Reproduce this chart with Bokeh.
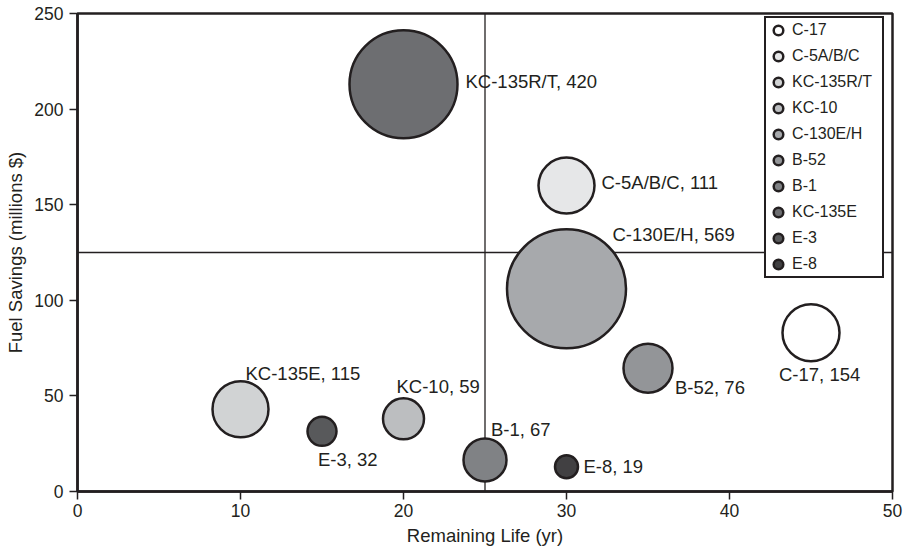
from bokeh.plotting import figure
from bokeh.models import Range1d, FixedTicker, Span, ColumnDataSource, Legend, LegendItem
from bokeh.core.properties import value
from bokeh.embed import file_html
from bokeh.resources import INLINE

# ---- data ----
aircraft = ["KC-135R/T", "C-5A/B/C", "C-130E/H", "KC-135E", "E-3",
            "KC-10", "B-1", "E-8", "B-52", "C-17"]
remaining_life = [20, 30, 30, 10, 15, 20, 25, 30, 35, 45]
fuel_savings = [213, 160, 106, 43, 31.5, 38, 16.5, 13, 64.5, 83]
fleet_size = [420, 111, 569, 115, 32, 59, 67, 19, 76, 154]

legend_order = ["C-17", "C-5A/B/C", "KC-135R/T", "KC-10", "C-130E/H",
                "B-52", "B-1", "KC-135E", "E-3", "E-8"]

x_ticks = [0, 10, 20, 30, 40, 50]
y_ticks = [0, 50, 100, 150, 200, 250]
x_divider = 25
y_divider = 125

# ---- styling ----
INK = "#231f20"
FONT = "Liberation Sans"
bubble_px = [108, 56, 119, 56, 29, 41, 43, 23, 49, 57]
bubble_fill = ["#6d6e71", "#e6e7e8", "#a7a9ac", "#d1d3d4", "#58595b",
               "#bcbec0", "#808285", "#414042", "#939598", "#ffffff"]
legend_fill = ["#ffffff", "#e6e7e8", "#d1d3d4", "#bcbec0", "#a7a9ac",
               "#939598", "#808285", "#6d6e71", "#58595b", "#414042"]
# label offsets in screen px (right, down) from the bubble centre
label_dx = [62, 35, 46, 5, -4, -7, 6, 17, 27, -32]
label_dy = [-3, -3, -54, -36, 28, -32, -30, 0, 19, 42]

labels = [f"{a}, {n}" for a, n in zip(aircraft, fleet_size)]

src = ColumnDataSource(dict(x=remaining_life, y=fuel_savings, size=bubble_px,
                            fill=bubble_fill, label=labels,
                            dx=label_dx, dy=label_dy))

p = figure(width=903, height=548, output_backend="svg", toolbar_location=None,
           x_range=Range1d(0, 50), y_range=Range1d(0, 250),
           min_border_left=77, min_border_right=11, min_border_top=13,
           min_border_bottom=57)
p.xgrid.visible = False
p.ygrid.visible = False
p.outline_line_color = INK
p.outline_line_width = 2.5
p.outline_line_alpha = 1

for ax in (p.xaxis[0], p.yaxis[0]):
    ax.axis_line_color = INK
    ax.axis_line_width = 2.5
    ax.major_tick_line_color = INK
    ax.major_tick_line_width = 1.5
    ax.major_tick_out = 8
    ax.major_tick_in = 0
    ax.minor_tick_line_color = None
    ax.major_label_text_font = FONT
    ax.major_label_text_font_size = "17.5px"
    ax.major_label_text_color = INK
    ax.axis_label_text_font = FONT
    ax.axis_label_text_font_size = "18.5px"
    ax.axis_label_text_font_style = "normal"
    ax.axis_label_text_color = INK

p.xaxis.ticker = FixedTicker(ticks=x_ticks)
p.yaxis.ticker = FixedTicker(ticks=y_ticks)
p.xaxis.axis_label = "Remaining Life (yr)"
p.yaxis.axis_label = "Fuel Savings (millions $)"
p.xaxis.major_label_standoff = 4
p.yaxis.major_label_standoff = 6
p.xaxis.axis_label_standoff = 5
p.yaxis.axis_label_standoff = 5

p.add_layout(Span(location=x_divider, dimension="height", line_color=INK,
                  line_width=1.3, level="underlay"))
p.add_layout(Span(location=y_divider, dimension="width", line_color=INK,
                  line_width=1.3, level="underlay"))

p.text(x="x", y="y", text="label", x_offset="dx", y_offset="dy", source=src,
       text_font=value(FONT), text_font_size="18.5px", text_color=INK,
       text_align="left", text_baseline="middle")

p.scatter(x="x", y="y", size="size", fill_color="fill", line_color=INK,
          line_width=2.5, source=src)

# legend swatches (colours follow the legend, not the bubbles)
items = []
for name, col in zip(legend_order, legend_fill):
    r = p.scatter(x=[float("nan")], y=[float("nan")], size=8, fill_color=col,
                  line_color=INK, line_width=2.5)
    items.append(LegendItem(label=name, renderers=[r]))

legend = Legend(items=items, location=(687, 213), orientation="vertical",
                glyph_width=24, glyph_height=24, spacing=2, padding=0,
                label_standoff=2, label_width=90,
                label_text_font=FONT, label_text_font_size="16px",
                label_text_color=INK, border_line_color=INK,
                border_line_alpha=1, border_line_width=2.5,
                background_fill_color="white",
                background_fill_alpha=1, margin=0)
p.add_layout(legend)

open("out.html", "w").write(file_html(p, INLINE))
